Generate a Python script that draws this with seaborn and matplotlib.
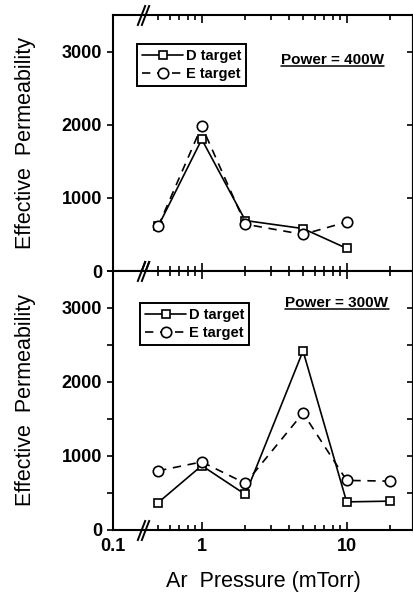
import numpy as np
import pandas as pd
import matplotlib
matplotlib.use("Agg")
import matplotlib.pyplot as plt
import matplotlib.ticker as mticker
import seaborn as sns

# values
pressure_400 = [0.5, 1, 2, 5, 10]
d_target_400 = [610, 1800, 690, 580, 310]
e_target_400 = [610, 1980, 640, 500, 670]

pressure_300 = [0.5, 1, 2, 5, 10, 20]
d_target_300 = [370, 870, 480, 2420, 380, 390]
e_target_300 = [800, 920, 630, 1580, 670, 660]

targets = ["D target", "E target"]
power_labels = ["Power = 400W", "Power = 300W"]
x_tick_labels = ["0.1", "1", "10"]
y_ticks = [0, 1000, 2000, 3000]


def make_frame(pressure, d_vals, e_vals):
    return pd.DataFrame({
        "pressure": list(pressure) * 2,
        "perm": list(d_vals) + list(e_vals),
        "target": [targets[0]] * len(d_vals) + [targets[1]] * len(e_vals),
    })


frames = [make_frame(pressure_400, d_target_400, e_target_400),
          make_frame(pressure_300, d_target_300, e_target_300)]

sns.set_style("ticks")
plt.rcParams["font.family"] = ["Liberation Sans", "DejaVu Sans"]
plt.rcParams["text.color"] = "black"
plt.rcParams["axes.labelcolor"] = "black"

fig = plt.figure(figsize=(4.14, 5.96), dpi=100)
W, H = 414, 596
ax_top = fig.add_axes([113 / W, 1 - 271 / H, 300 / W, 256 / H])
ax_bot = fig.add_axes([113 / W, 1 - 530 / H, 300 / W, 259 / H])
axes = [ax_top, ax_bot]

x_left, x_right = 0.244, 28.7
x_break = 0.39
minor_x = [0.5, 0.6, 0.7, 0.8, 0.9, 2, 3, 4, 5, 6, 7, 8, 9, 20]

legend_pos = [(0.08, 0.888), (0.09, 0.878)]
power_pos = [(0.56, 0.824), (0.575, 0.876)]

for i, ax in enumerate(axes):
    sns.lineplot(data=frames[i], x="pressure", y="perm", style="target",
                 markers={"D target": "s", "E target": "o"},
                 dashes={"D target": "", "E target": (5, 4)},
                 color="black", linewidth=1.2, errorbar=None,
                 markerfacecolor="white", markeredgecolor="black",
                 markeredgewidth=1.2, legend=False, ax=ax)
    handles = list(ax.lines[:2])
    for line in handles:
        line.set_markersize(6 if line.get_marker() == "s" else 7.5)

    ax.set_xscale("log")
    ax.set_xlim(x_left, x_right)
    ax.set_ylim(0, 3500)
    ax.set_yticks(y_ticks)
    ax.set_xticks([x_left, 1, 10])
    ax.set_xticklabels(x_tick_labels, fontweight="bold")
    ax.set_yticklabels([str(v) for v in y_ticks], fontweight="bold")
    ax.xaxis.set_minor_locator(mticker.FixedLocator(minor_x))
    ax.xaxis.set_minor_formatter(mticker.NullFormatter())
    ax.set_xlabel("")
    ax.set_ylabel("Effective  Permeability", fontsize=15.5)
    ax.yaxis.set_label_coords(-0.255, 0.5)

    for sp in ax.spines.values():
        sp.set_visible(True)
        sp.set_linewidth(1.5)
        sp.set_color("black")

    ax.tick_params(axis="x", which="both", direction="in", top=True,
                   bottom=True, width=1.2, colors="black", labelsize=13, pad=6)
    ax.tick_params(axis="x", which="major", length=6)
    ax.tick_params(axis="x", which="minor", length=3.5)
    ax.tick_params(axis="y", which="both", direction="out", left=True,
                   right=False, width=1.2, length=4, labelsize=13, pad=4,
                   colors="black")

    right = ax.secondary_yaxis("right")
    right.set_yticks(y_ticks)
    right.tick_params(axis="y", which="both", direction="in", length=4,
                      width=1.2, labelright=False, colors="black")
    right.spines["right"].set_linewidth(1.5)
    if i == 1:
        ax.yaxis.set_minor_locator(mticker.MultipleLocator(500))
        right.yaxis.set_minor_locator(mticker.MultipleLocator(500))
        right.tick_params(axis="y", which="minor", direction="in", length=4)
    else:
        ax.tick_params(labelbottom=False)

    # axis break marks
    for yb in (0, 1):
        ax.plot([x_break * 0.975, x_break * 1.035], [yb, yb],
                transform=ax.get_xaxis_transform(), linestyle="none",
                marker=[(-1, -2.6), (1, 2.6)], markersize=15,
                markeredgecolor="black", markeredgewidth=1.4, clip_on=False)

    leg = ax.legend(handles, targets, loc="upper left",
                    bbox_to_anchor=legend_pos[i], borderaxespad=0,
                    frameon=True, fancybox=False, edgecolor="black",
                    framealpha=1, handlelength=2.8, handletextpad=0.2,
                    labelspacing=0.3, borderpad=0.35,
                    prop={"size": 10.5, "weight": "bold"})
    leg.get_frame().set_linewidth(1.4)

    ax.text(power_pos[i][0], power_pos[i][1], power_labels[i],
            transform=ax.transAxes, fontsize=11, fontweight="bold",
            va="center", ha="left")

ax_bot.set_xlabel("Ar  Pressure (mTorr)", fontsize=15.5)
ax_bot.xaxis.set_label_coords(0.5, -0.158)

# underline the power labels
fig.canvas.draw()
for ax in axes:
    t = ax.texts[-1]
    bb = t.get_window_extent().transformed(ax.transAxes.inverted())
    ax.plot([bb.x0, bb.x1], [bb.y0 + 0.006, bb.y0 + 0.006],
            transform=ax.transAxes, color="black", linewidth=1.1,
            clip_on=False)

fig.savefig("out.png", dpi=100)
